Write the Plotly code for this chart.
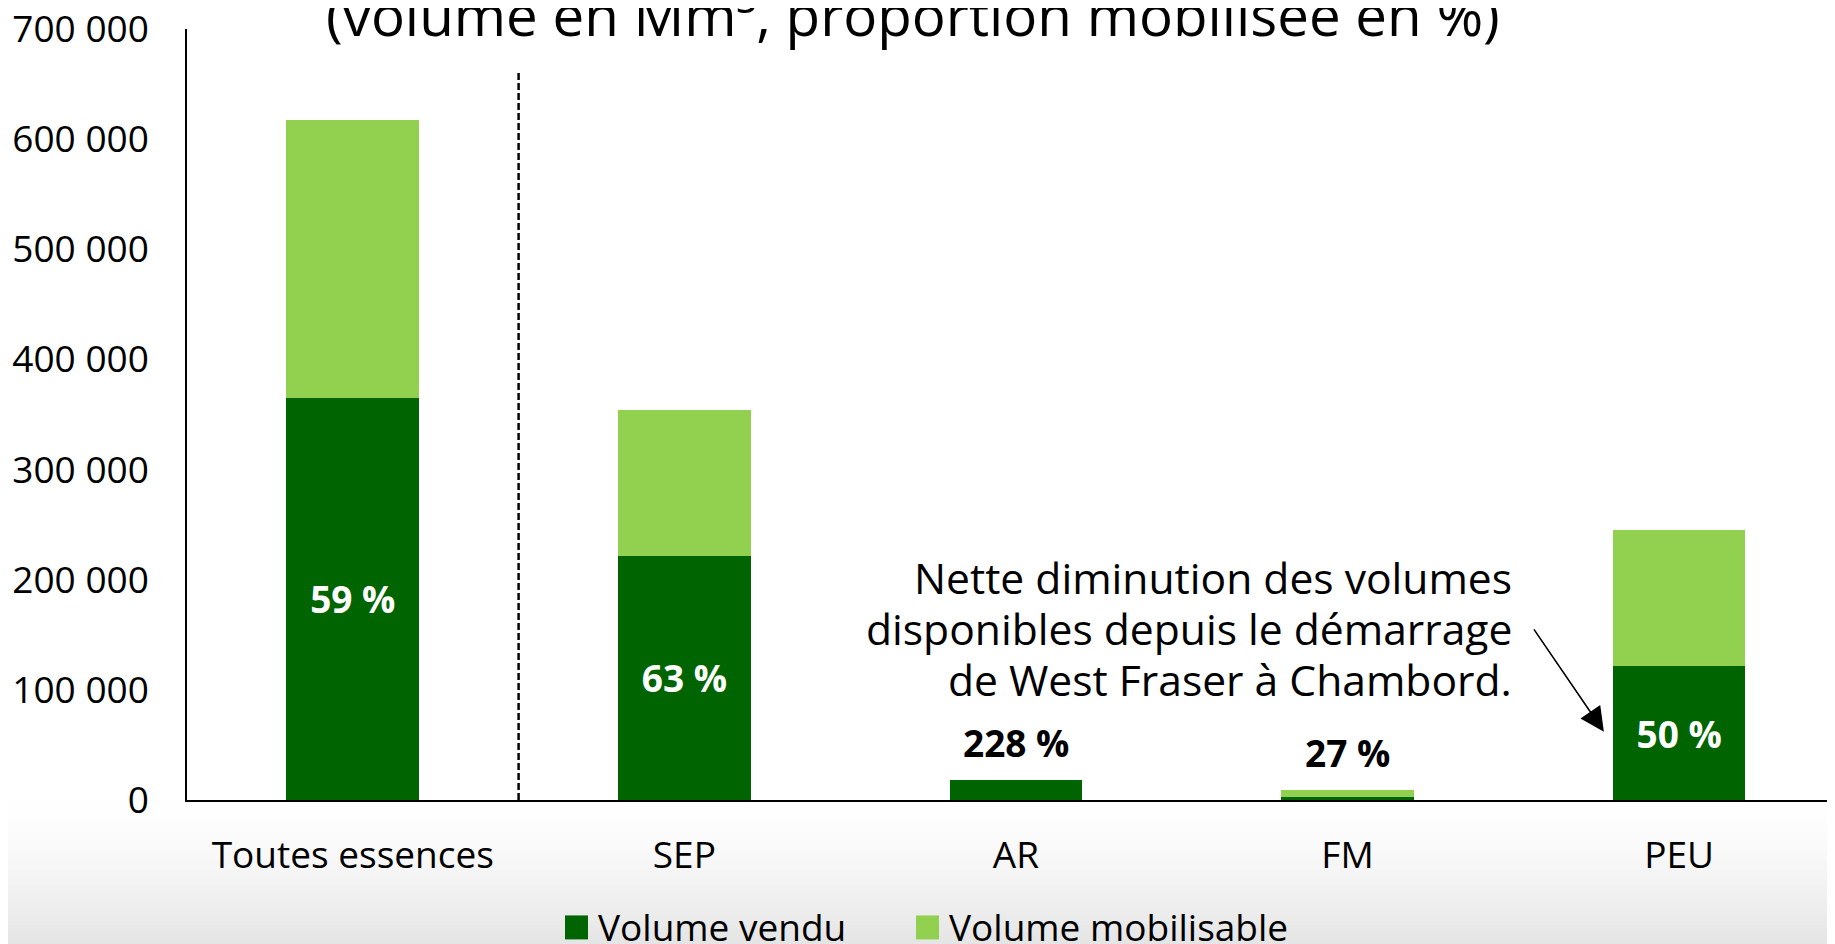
import plotly.graph_objects as go

# ---------------- data ----------------
categories = ["Toutes essences", "SEP", "AR", "FM", "PEU"]
volume_vendu = [365000, 221600, 17900, 2400, 121600]
volume_mobilisable = [252200, 132600, 0, 6700, 123100]   # stacked on top of the sold volume
proportion_pct = [59, 63, 228, 27, 50]
label_inside = [True, True, False, False, True]
series_names = ["Volume vendu", "Volume mobilisable"]

title_text = "(volume en Mm³, proportion mobilisée en %)"
note_lines = ["Nette diminution des volumes",
              "disponibles depuis le démarrage",
              "de West Fraser à Chambord."]

DARK = "#006400"
LIGHT = "#92D050"
FONT = "Open Sans"

W, H = 1835, 944
OFF = 8  # page body margin: figure drawn 8 px right/down of the window origin
# target plot box in window pixels
PL, PR, PT, PB = 187, 1835, 29, 800.5
M_L = PL - OFF
M_R = W - (PR - OFF)
M_T = PT - OFF
M_B = H - (PB - OFF)
plot_w = W - M_L - M_R
plot_h = H - M_T - M_B


def px_x(p):  # window pixel -> paper x
    return (p - OFF - M_L) / plot_w


def px_y(p):  # window pixel -> paper y
    return (H - M_B - (p - OFF)) / plot_h


fig = go.Figure()

fig.add_trace(go.Bar(
    name=series_names[0], x=categories, y=volume_vendu,
    marker=dict(color=DARK, line=dict(width=0)),
    width=0.4,
    text=[f"{p} %" if ins else "" for p, ins in zip(proportion_pct, label_inside)],
    textposition="inside", insidetextanchor="middle", textangle=0,
    textfont=dict(family=FONT, size=37, color="white", weight="bold"),
    hoverinfo="skip", showlegend=False,
))
fig.add_trace(go.Bar(
    name=series_names[1], x=categories, y=volume_mobilisable,
    marker=dict(color=LIGHT, line=dict(width=0)),
    width=0.4, hoverinfo="skip", showlegend=False,
))

annotations = []
# labels placed above the bars (outside)
for c, v, m, p, ins in zip(categories, volume_vendu, volume_mobilisable,
                           proportion_pct, label_inside):
    if not ins:
        annotations.append(dict(
            x=c, y=v + m, xref="x", yref="y", text=f"{p} %", showarrow=False,
            yanchor="bottom", yshift=10,
            font=dict(family=FONT, size=37, color="black", weight="bold")))

# title (partly cut at the top of the frame)
annotations.append(dict(
    x=px_x(913), y=px_y(55),
    xref="paper", yref="paper", xanchor="center", yanchor="bottom",
    text=title_text, showarrow=False,
    font=dict(family=FONT, size=56.5, color="black")))

# note text
note_y = [202500, 155850, 110100]
for line, yv in zip(note_lines, note_y):
    annotations.append(dict(
        x=3.502, y=yv, xref="x", yref="y", xanchor="right", yanchor="middle",
        align="right", text=line, showarrow=False,
        font=dict(family=FONT, size=42.6, color="black")))

# arrow
annotations.append(dict(
    x=3.773, y=62070, xref="x", yref="y",
    ax=3.559, ay=156300, axref="x", ayref="y",
    text="", showarrow=True, arrowhead=2, arrowsize=3.0, arrowwidth=1.6,
    arrowcolor="black", standoff=0))

shapes = []
# soft grey gradient at the bottom of the slide
n_steps = 40
g0, g1 = 790, H
for k in range(n_steps):
    p0 = g0 + (g1 - g0) * k / n_steps
    p1 = g0 + (g1 - g0) * (k + 1) / n_steps + 0.5
    t = (k + 0.5) / n_steps
    g = int(round(255 - (255 - 228) * t ** 1.6))
    shapes.append(dict(
        type="rect", xref="paper", yref="paper", layer="below",
        x0=px_x(-20), x1=px_x(W + 20),
        y0=px_y(p1 + 20 if k == n_steps - 1 else p1), y1=px_y(p0),
        fillcolor=f"rgb({g},{g},{g})", line=dict(width=0)))

# dashed separator between "Toutes essences" and the species
shapes.append(dict(
    type="line", xref="x", yref="y", x0=0.5, x1=0.5, y0=0, y1=661000,
    line=dict(color="black", width=2.5, dash="7px,3px"), layer="above"))

# legend (square swatches + names)
legend_sq_x = [565, 916]
legend_colors = [DARK, LIGHT]
for name, sx, col in zip(series_names, legend_sq_x, legend_colors):
    shapes.append(dict(
        type="rect", xref="paper", yref="paper", layer="above",
        x0=px_x(sx), x1=px_x(sx + 23), y0=px_y(940), y1=px_y(916),
        fillcolor=col, line=dict(width=0)))
    annotations.append(dict(
        x=px_x(sx + 31), y=px_y(927), xref="paper", yref="paper",
        xanchor="left", yanchor="middle", text=name, showarrow=False,
        font=dict(family=FONT, size=37, color="black")))

fig.update_layout(
    width=W, height=H,
    margin=dict(l=M_L, r=M_R, t=M_T, b=M_B, pad=0, autoexpand=False),
    paper_bgcolor="white", plot_bgcolor="white",
    barmode="stack", bargap=0.6,
    separators=", ",
    font=dict(family=FONT, size=37, color="black"),
    showlegend=False,
    annotations=annotations, shapes=shapes,
    xaxis=dict(type="category", categoryorder="array", categoryarray=categories,
               range=[-0.5, 4.47], showline=True, linecolor="black", linewidth=2,
               ticks="", showgrid=False, zeroline=False, automargin=False,
               tickfont=dict(family=FONT, size=37, color="black"),
               ticklabelstandoff=22, ticklabeloverflow="allow"),
    yaxis=dict(range=[0, 700000], dtick=100000, tickformat=",d",
               showline=True, linecolor="black", linewidth=1.5,
               ticks="", showgrid=False, zeroline=False, automargin=False,
               tickfont=dict(family=FONT, size=37, color="black"),
               ticklabelstandoff=29, ticklabeloverflow="allow"),
)

fig.write_html("out.html")
